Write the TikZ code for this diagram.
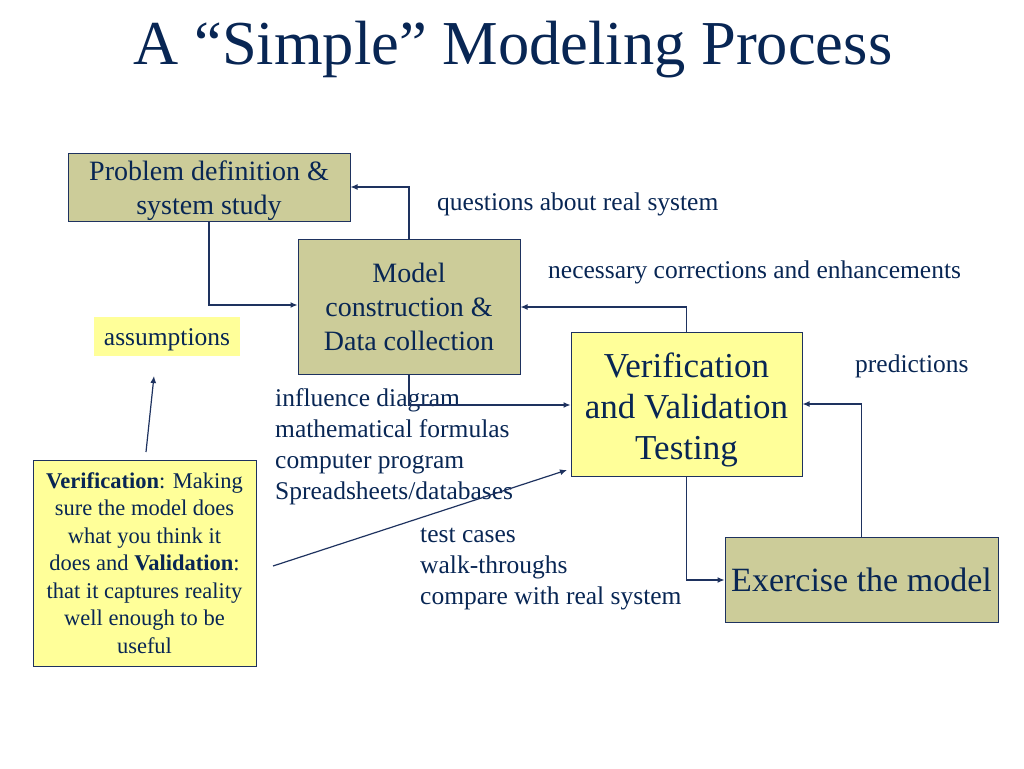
\documentclass[tikz,border=0pt]{standalone}
\usepackage{fontspec}
\setmainfont{Liberation Serif}
\usetikzlibrary{arrows.meta}
\definecolor{navy}{RGB}{8,38,84}
\definecolor{edge}{RGB}{30,50,95}
\definecolor{olive}{RGB}{204,204,153}
\definecolor{lyellow}{RGB}{255,255,153}
\newcommand{\lowerby}[2]{\raisebox{-#1}[\height][\depth]{#2}}
\tikzset{
  box/.style={draw=edge, line width=1pt, inner sep=0pt, align=center, text=navy},
  olivebox/.style={box, fill=olive},
  yellowbox/.style={box, fill=lyellow},
  lbl/.style={text=navy, inner sep=0pt, anchor=base west, align=left, font=\fontsize{25.5}{31}\selectfont},
  conn/.style={draw=edge, line width=1.2pt, -{Latex[length=7pt,width=6pt]}},
}
\begin{document}
\begin{tikzpicture}[x=1pt,y=-1pt]
\useasboundingbox (0,0) rectangle (1024,768);
\node[text=navy, inner sep=0pt, anchor=base, font=\fontsize{62.5}{70}\selectfont] (title) at (513,64) {A “Simple” Modeling Process};

\node[olivebox, minimum width=282pt, minimum height=68pt, font=\fontsize{28}{34}\selectfont] (prob) at (209,187) {\lowerby{4pt}{\begin{tabular}{@{}c@{}}Problem definition \&\\ system study\end{tabular}}};
\node[olivebox, minimum width=222pt, minimum height=135pt, font=\fontsize{28}{34}\selectfont] (model) at (409,306.5) {Model\\ construction \&\\ Data collection};
\node[yellowbox, minimum width=231pt, minimum height=144pt, font=\fontsize{35}{41}\selectfont] (vv) at (686.5,404) {\lowerby{6pt}{\begin{tabular}{@{}c@{}}Verification\\ and Validation\\ Testing\end{tabular}}};
\node[olivebox, minimum width=273pt, minimum height=85pt, font=\fontsize{34}{40}\selectfont] (ex) at (861.5,579.5) {Exercise the model};
\node[fill=lyellow, inner sep=0pt, text=navy, minimum width=146pt, minimum height=39pt, font=\fontsize{25.5}{30}\selectfont] (ass) at (167,336.5) {\lowerby{3pt}{assumptions}};
\node[yellowbox, minimum width=223pt, minimum height=206pt, font=\fontsize{22.5}{27.5}\selectfont] (vdef) at (144.5,563) {\textbf{Verification}: Making\\ sure the model does\\ what you think it\\ does and \textbf{Validation}:\\ that it captures reality\\ well enough to be\\ useful};

\node[lbl] (q) at (437,210) {questions about real system};
\node[lbl] (nc) at (548,278) {necessary corrections and enhancements};
\node[lbl] (pred) at (855,372) {predictions};
\node[lbl, anchor=north west] (tools) at (275,388) {influence diagram\\ mathematical formulas\\ computer program\\ Spreadsheets/databases};
\node[lbl, anchor=north west] (tests) at (420,528) {test cases\\ walk-throughs\\ compare with real system};

\coordinate (a1) at (146,452);
\coordinate (a2) at (154,376);
\coordinate (b1) at (273,566);
\coordinate (b2) at (567,470);

\draw[conn] (model.north) |- (prob.east |- 0,187);
\draw[conn] (prob.south) |- (model.west |- 0,305);
\draw[conn] (vv.north) |- (model.east |- 0,307);
\draw[conn] (model.south) |- (vv.west |- 0,405);
\draw[conn] (vv.south) |- (ex.west |- 0,580);
\draw[conn] (ex.north) |- (vv.east |- 0,404);
\draw[conn] (a1) -- (a2);
\draw[conn] (b1) -- (b2);
\end{tikzpicture}
\end{document}
